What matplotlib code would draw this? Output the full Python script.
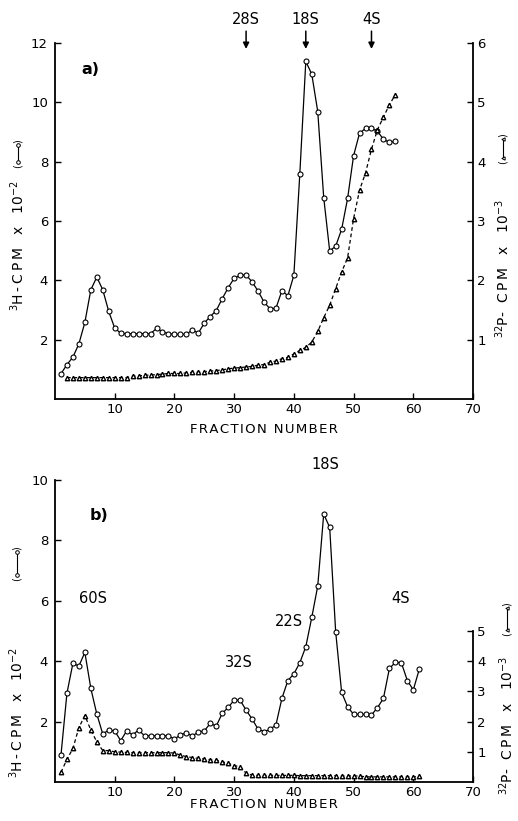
import numpy as np
import matplotlib
matplotlib.use("Agg")
import matplotlib.pyplot as plt
from matplotlib.lines import Line2D

plt.rcParams['font.family'] = ['DejaVu Sans']
plt.rcParams['mathtext.fontset'] = 'dejavusans'

W, H = 518, 821

# ---- panel a data ----
frac_a_h = list(range(1, 58))
h3_a = [0.85, 1.16, 1.41, 1.86, 2.58, 3.68, 4.11, 3.68, 2.95, 2.39,
        2.22, 2.20, 2.20, 2.20, 2.20, 2.20, 2.38, 2.27, 2.20, 2.18,
        2.18, 2.18, 2.33, 2.22, 2.56, 2.78, 2.98, 3.38, 3.75, 4.07,
        4.17, 4.18, 3.95, 3.64, 3.27, 3.04, 3.06, 3.65, 3.48, 4.17,
        7.60, 11.38, 10.95, 9.69, 6.79, 4.99, 5.15, 5.72, 6.76, 8.20,
        8.96, 9.12, 9.12, 9.03, 8.75, 8.65, 8.69]
frac_a_p = list(range(2, 58))
p32_a = [0.36, 0.36, 0.36, 0.36, 0.36, 0.36, 0.36, 0.36, 0.36, 0.36,
         0.36, 0.385, 0.39, 0.40, 0.405, 0.41, 0.42, 0.43, 0.43, 0.43,
         0.44, 0.45, 0.45, 0.46, 0.47, 0.48, 0.49, 0.51, 0.52, 0.53,
         0.54, 0.55, 0.57, 0.58, 0.62, 0.64, 0.68, 0.70, 0.76, 0.82,
         0.87, 0.96, 1.14, 1.37, 1.58, 1.86, 2.14, 2.38, 3.04, 3.52,
         3.81, 4.21, 4.54, 4.75, 4.96, 5.13]
markers_a = [("28S", 32), ("18S", 42), ("4S", 53)]

# ---- panel b data ----
frac_b = list(range(1, 62))
h3_b = [0.89, 2.94, 3.93, 3.84, 4.29, 3.10, 2.25, 1.59, 1.72, 1.69,
        1.37, 1.69, 1.56, 1.72, 1.53, 1.53, 1.53, 1.53, 1.53, 1.42,
        1.56, 1.63, 1.52, 1.66, 1.69, 1.94, 1.85, 2.27, 2.47, 2.71,
        2.71, 2.38, 2.09, 1.75, 1.67, 1.74, 1.89, 2.77, 3.36, 3.58,
        3.95, 4.48, 5.45, 6.49, 8.87, 8.43, 4.98, 2.97, 2.49, 2.24,
        2.24, 2.24, 2.22, 2.46, 2.77, 3.76, 3.96, 3.95, 3.36, 3.05,
        3.73]
p32_b = [0.32, 0.75, 1.11, 1.80, 2.20, 1.72, 1.33, 1.04, 1.04, 1.00,
         0.99, 0.98, 0.97, 0.97, 0.97, 0.97, 0.97, 0.97, 0.97, 0.96,
         0.89, 0.84, 0.81, 0.78, 0.76, 0.74, 0.73, 0.67, 0.62, 0.54,
         0.51, 0.29, 0.23, 0.22, 0.22, 0.22, 0.22, 0.22, 0.22, 0.22,
         0.21, 0.21, 0.21, 0.21, 0.21, 0.21, 0.21, 0.20, 0.20, 0.20,
         0.20, 0.17, 0.17, 0.17, 0.17, 0.17, 0.17, 0.17, 0.17, 0.16,
         0.20]
labels_b = [("18S", 45.2, 10.5), ("60S", 6.3, 6.06), ("4S", 57.9, 6.06),
            ("22S", 39.2, 5.33), ("32S", 30.8, 3.97)]

xticks = [10, 20, 30, 40, 50, 60, 70]

HS = "\u200a"   # hair space, for the letter-spaced look of the original
TS = "\u2009"   # thin space


def spaced(s, sep=HS):
    return sep.join(s)


X_LABEL = spaced("FRACTION NUMBER")
Y_LABEL_H = r"$^{3}$H" + TS + "-" + TS + spaced("CPM", TS) + "   x   10$^{-2}$"
Y_LABEL_P = r"$^{32}$P-  " + spaced("CPM", TS) + "   x   10$^{-3}$"


def fx(px):
    return px / W


def fy(py):
    return 1 - py / H


fig = plt.figure(figsize=(W / 100, H / 100), dpi=100)


def style(ax, ax2):
    for a in (ax, ax2):
        a.spines['top'].set_visible(False)
        for s in a.spines.values():
            s.set_linewidth(1.3)
    ax.spines['right'].set_visible(False)
    ax2.spines['left'].set_visible(False)
    ax2.spines['bottom'].set_visible(False)
    ax.tick_params(axis='both', direction='in', length=4, width=1.0,
                   labelsize=9.5)
    ax.tick_params(axis='y', pad=5)
    ax.tick_params(axis='x', pad=3)
    ax2.tick_params(axis='y', direction='in', length=4, width=1.0,
                    labelsize=9.5, pad=3)
    ax.set_xlim(0, 70)
    ax.set_xticks(xticks)


def ylabel_sym(xc, ybot, text, sym_top, sym_bot, marker, ms):
    # rotated label text plus the little symbol key in brackets
    fig.text(fx(xc), fy(ybot), text, rotation=90, ha='center', va='bottom',
             fontsize=10)
    fig.text(fx(xc), fy(sym_bot + 2), "(", rotation=90, ha='center',
             va='top', fontsize=7)
    fig.text(fx(xc), fy(sym_top - 2), ")", rotation=90, ha='center',
             va='bottom', fontsize=7)
    fig.add_artist(Line2D([fx(xc), fx(xc)], [fy(sym_bot), fy(sym_top)],
                          transform=fig.transFigure, color='black', lw=0.8,
                          marker=marker, ms=ms, mfc='white', mec='black',
                          mew=0.7))


# ---- panel a ----
ax = fig.add_axes([fx(55), fy(399), fx(473 - 55), (399 - 43) / H])
ax2 = ax.twinx()
ax.plot(frac_a_h, h3_a, color='black', lw=0.9, marker='o', ms=3.6,
        mfc='white', mec='black', mew=0.8, zorder=3)
ax2.plot(frac_a_p, p32_a, color='black', lw=0.9, ls=(0, (3, 2.2)),
         marker='^', ms=3.2, mfc='white', mec='black', mew=1.0)
ax.set_ylim(0, 12)
ax.set_yticks([2, 4, 6, 8, 10, 12])
ax2.set_ylim(0, 6)
ax2.set_yticks([1, 2, 3, 4, 5, 6])
style(ax, ax2)
ax.set_xlabel(X_LABEL, fontsize=9.5, labelpad=5)
ax.text(6.0, 11.09, "a)", fontsize=11.5, fontweight='bold', ha='center',
        va='center')
for name, xpos in markers_a:
    ax.annotate("", xy=(xpos, 11.8), xytext=(xpos, 12.4),
                arrowprops=dict(arrowstyle='-|>', color='black', lw=1.1,
                                mutation_scale=9, shrinkA=0, shrinkB=0),
                annotation_clip=False)
    ax.text(xpos, 12.78, name, fontsize=10.5, ha='center', va='center')

ylabel_sym(18, 311, Y_LABEL_H, 145, 162, 'o', 2.6)
ylabel_sym(503, 338, Y_LABEL_P, 139, 158, '<', 2.4)

# ---- panel b ----
bx = fig.add_axes([fx(55), fy(782), fx(473 - 55), (782 - 480) / H])
bx2 = bx.twinx()
bx.plot(frac_b, h3_b, color='black', lw=0.9, marker='o', ms=3.6,
        mfc='white', mec='black', mew=0.8, zorder=3)
bx2.plot(frac_b, p32_b, color='black', lw=0.9, ls=(0, (3, 2.2)),
         marker='^', ms=3.2, mfc='white', mec='black', mew=1.0)
bx.set_ylim(0, 10)
bx.set_yticks([2, 4, 6, 8, 10])
bx2.set_ylim(0, 10)
bx2.set_yticks([1, 2, 3, 4, 5])
style(bx, bx2)
bx2.spines['right'].set_bounds(0, 5)
bx.set_xlabel(X_LABEL, fontsize=9.5, labelpad=-1)
bx.text(7.3, 8.84, "b)", fontsize=11.5, fontweight='bold', ha='center',
        va='center')
for name, xpos, ypos in labels_b:
    bx.text(xpos, ypos, name, fontsize=10.5, ha='center', va='center',
            clip_on=False)

ylabel_sym(17, 778, Y_LABEL_H, 552, 575, 'o', 2.6)
ylabel_sym(507, 795, Y_LABEL_P, 608, 630, '<', 2.4)

fig.savefig("out.png", dpi=100)
